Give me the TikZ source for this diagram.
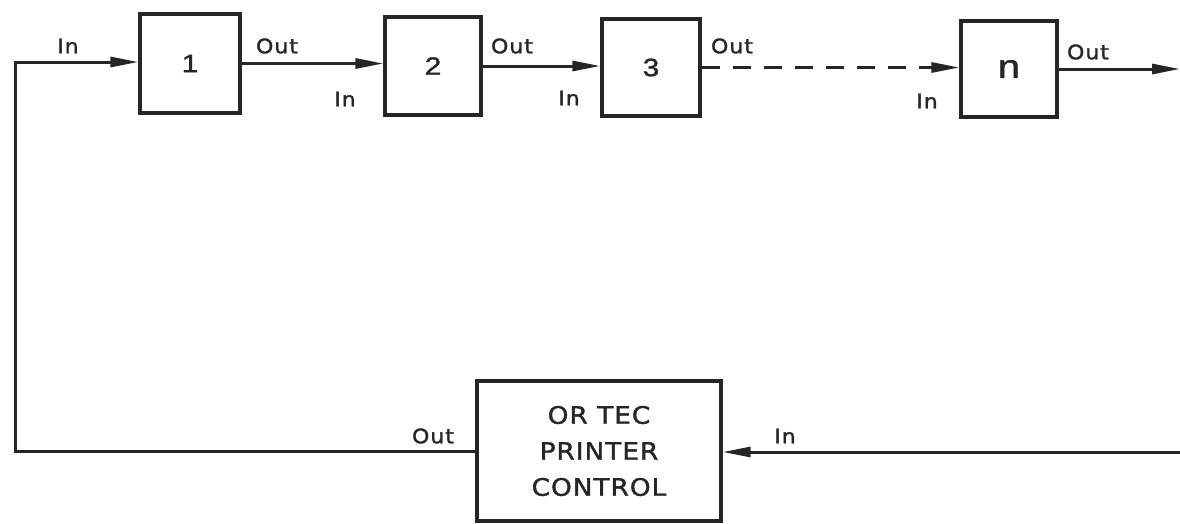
\documentclass[tikz,border=0pt]{standalone}
\usepackage{fontspec}
\setmainfont{DejaVu Sans}
\newfontfamily\letterA[FakeStretch=1.1,FakeBold=1.5,LetterSpace=5]{DejaVu Sans}
\newfontfamily\letterB[FakeStretch=1.1,FakeBold=1.5,LetterSpace=4]{DejaVu Sans}
\newfontfamily\letterC[FakeStretch=1.2,FakeBold=1.5]{Liberation Sans}
\usetikzlibrary{arrows.meta}
\definecolor{ink}{HTML}{262626}
\tikzset{
  blk/.style={draw=ink, line width=3.2pt, inner sep=0pt, font=\letterC\fontsize{25}{30}\selectfont, text=ink},
  lbl/.style={font=\letterA\fontsize{20}{24}\selectfont, text=ink, inner sep=0pt},
  conn/.style={draw=ink, line width=3pt, -{Triangle[length=28pt,width=10pt]}},
  dashconn/.style={conn, dash pattern=on 18pt off 13pt},
}
\begin{document}
\begin{tikzpicture}[x=1pt,y=-1pt]
\useasboundingbox[fill=white] (0,0) rectangle (1180,523);
\node[blk, minimum width=100pt, minimum height=99pt] (b1) at (190,63.5) {1};
\node[blk, minimum width=96pt, minimum height=98pt] (b2) at (433,66) {2};
\node[blk, minimum width=98pt, minimum height=97pt] (b3) at (651,67.5) {3};
\node[blk, minimum width=96pt, minimum height=96pt, font=\letterC\fontsize{33}{36}\selectfont] (bn) at (1009,69) {n};
\node[blk, minimum width=244pt, minimum height=140pt, align=center, font=\letterB\fontsize{24}{36}\selectfont] (pc) at (599,451) {OR TEC\\PRINTER\\CONTROL};
\coordinate (lt) at (15,62);
\coordinate (rt) at (1180,69);
\coordinate (rb) at (1180,452);
\draw[conn] (pc.west) -| (lt) -- (lt -| b1.west);
\draw[conn] (b1.east) -- (b1.east -| b2.west);
\draw[conn] (b2.east) -- (b2.east -| b3.west);
\draw[dashconn] (b3.east) -- (b3.east -| bn.west);
\draw[conn] (bn.east) -- (rt);
\draw[conn] (rb) -- (rb -| pc.east);
\node[lbl] (l1) at (68,46) {In};
\node[lbl] (l2) at (277,46) {Out};
\node[lbl] (l3) at (345,99) {In};
\node[lbl] (l4) at (512,46) {Out};
\node[lbl] (l5) at (569,98) {In};
\node[lbl] (l6) at (732,46) {Out};
\node[lbl] (l7) at (927,101) {In};
\node[lbl] (l8) at (1088,52) {Out};
\node[lbl] (l9) at (433,436) {Out};
\node[lbl] (l10) at (785,436) {In};
\end{tikzpicture}
\end{document}
